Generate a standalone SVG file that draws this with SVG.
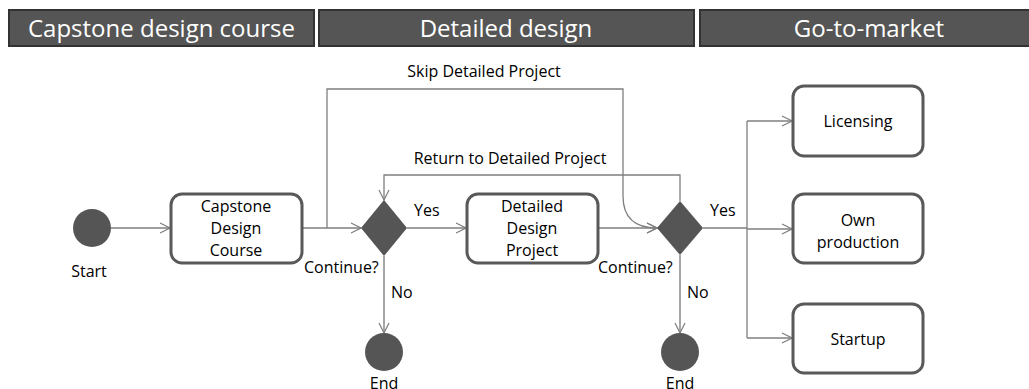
<svg xmlns="http://www.w3.org/2000/svg" width="1029" height="389" viewBox="0 0 1029 389">
  <style>
    .bar { fill: #555555; stroke: #333333; stroke-width: 2; }
    .bar-text { font-family: "Open Sans", "Noto Sans", sans-serif; font-size: 24px; fill: #ffffff; text-anchor: middle; }
    .box { fill: #ffffff; stroke: #595959; stroke-width: 3; }
    .dot { fill: #555555; }
    .label { font-family: "Open Sans", "Noto Sans", sans-serif; font-size: 16px; fill: #000000; }
    .mid { text-anchor: middle; }
    .line { fill: none; stroke: #7f7f7f; stroke-width: 1.3; }
    .line-no { fill: none; stroke: #a6a6a6; stroke-width: 2; }
  </style>
  <defs>
    <marker id="arrow" viewBox="0 0 12 12" refX="11" refY="6" markerWidth="12" markerHeight="12" markerUnits="userSpaceOnUse" orient="auto">
      <path d="M1,1 L11,6 L1,11" fill="none" stroke="#7f7f7f" stroke-width="1.2"/>
    </marker>
  </defs>

  <rect width="1029" height="389" fill="#ffffff"/>

  <!-- phase headers -->
  <g id="phase-capstone">
    <rect class="bar" x="9" y="10" width="305" height="36"/>
    <text class="bar-text" x="161.5" y="37">Capstone design course</text>
  </g>
  <g id="phase-detailed">
    <rect class="bar" x="319" y="10" width="375" height="36"/>
    <text class="bar-text" x="506" y="37">Detailed design</text>
  </g>
  <g id="phase-market">
    <rect class="bar" x="700" y="10" width="340" height="36"/>
    <text class="bar-text" x="869" y="37">Go-to-market</text>
  </g>

  <!-- connectors -->
  <g id="connectors">
    <path class="line" d="M111,228 H170" marker-end="url(#arrow)"/>
    <path class="line" d="M302,228 H361" marker-end="url(#arrow)"/>
    <path class="line" d="M327,228 V89 H623 V196 Q623,228 657,228" marker-end="url(#arrow)"/>
    <path class="line" d="M680,201 V175 H384 V200" marker-end="url(#arrow)"/>
    <path class="line" d="M407,228 H466" marker-end="url(#arrow)"/>
    <path class="line" d="M598,228 H657" marker-end="url(#arrow)"/>
    <path class="line-no" d="M384,256 V333" marker-end="url(#arrow)"/>
    <path class="line-no" d="M680,255 V333" marker-end="url(#arrow)"/>
    <path class="line" d="M703,228 H747"/>
    <path class="line" d="M747,121 V338"/>
    <path class="line" d="M747,121 H792" marker-end="url(#arrow)"/>
    <path class="line" d="M747,229 H792" marker-end="url(#arrow)"/>
    <path class="line" d="M747,338 H792" marker-end="url(#arrow)"/>
    <text class="label mid" x="484" y="77">Skip Detailed Project</text>
    <text class="label mid" x="510" y="164">Return to Detailed Project</text>
    <text class="label" x="414" y="216">Yes</text>
    <text class="label" x="710" y="216">Yes</text>
    <text class="label" x="391" y="298">No</text>
    <text class="label" x="687" y="298">No</text>
  </g>

  <!-- nodes -->
  <g id="start">
    <circle class="dot" cx="92" cy="228" r="19"/>
    <text class="label mid" x="89" y="277">Start</text>
  </g>
  <g id="capstone-course">
    <rect class="box" x="171" y="194" width="131" height="69" rx="11"/>
    <text class="label mid" x="236" y="212">Capstone</text>
    <text class="label mid" x="236" y="234">Design</text>
    <text class="label mid" x="236" y="256">Course</text>
  </g>
  <g id="decision-1">
    <path class="dot" d="M384,200 L407,228 L384,256 L361,228 Z"/>
    <text class="label" x="304" y="273">Continue?</text>
  </g>
  <g id="end-1">
    <circle class="dot" cx="384" cy="352" r="19"/>
    <text class="label mid" x="384" y="389">End</text>
  </g>
  <g id="detailed-project">
    <rect class="box" x="467" y="194" width="131" height="69" rx="11"/>
    <text class="label mid" x="532" y="212">Detailed</text>
    <text class="label mid" x="532" y="234">Design</text>
    <text class="label mid" x="532" y="256">Project</text>
  </g>
  <g id="decision-2">
    <path class="dot" d="M680,201 L703,228 L680,255 L657,228 Z"/>
    <text class="label" x="598" y="273">Continue?</text>
  </g>
  <g id="end-2">
    <circle class="dot" cx="680" cy="352" r="19"/>
    <text class="label mid" x="680" y="389">End</text>
  </g>
  <g id="licensing">
    <rect class="box" x="793" y="86" width="130" height="70" rx="11"/>
    <text class="label mid" x="858" y="127">Licensing</text>
  </g>
  <g id="own-production">
    <rect class="box" x="793" y="194" width="130" height="69" rx="11"/>
    <text class="label mid" x="858" y="226">Own</text>
    <text class="label mid" x="858" y="248">production</text>
  </g>
  <g id="startup">
    <rect class="box" x="793" y="304" width="130" height="69" rx="11"/>
    <text class="label mid" x="858" y="345">Startup</text>
  </g>
</svg>
